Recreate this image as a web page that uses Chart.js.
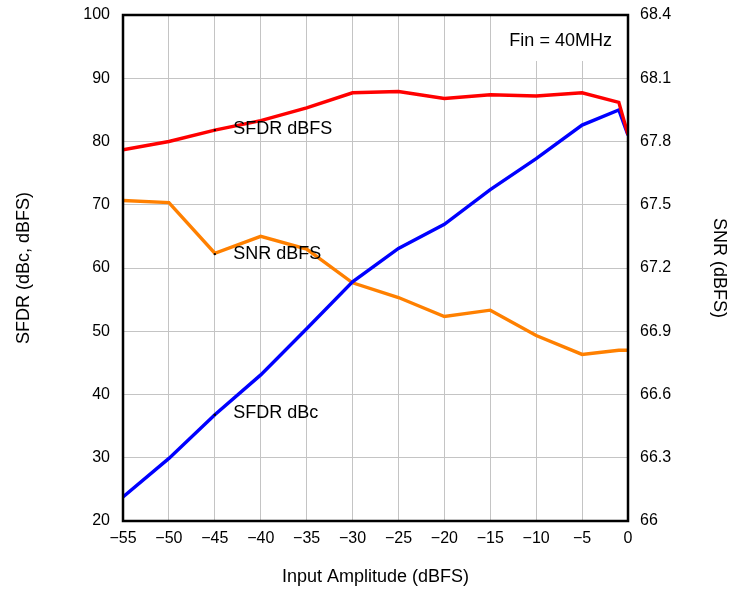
<!DOCTYPE html>
<html>
<head>
<meta charset="utf-8">
<script src="https://cdn.jsdelivr.net/npm/chart.js@4"></script>
<style>
  html, body { margin: 0; padding: 0; background: #fff; }
  #wrap { width: 730px; height: 590px; }
</style>
</head>
<body>
<div id="wrap"><canvas id="chart" width="730" height="590"></canvas></div>
<script>
// Input amplitude (dBFS) sample points
const inputAmplitude = [-55, -50, -45, -40, -35, -30, -25, -20, -15, -10, -5, -1, 0];
// Left axis series (dBc / dBFS)
const sfdrDbfs = [78.7, 80.0, 81.8, 83.3, 85.3, 87.7, 87.9, 86.8, 87.4, 87.2, 87.7, 86.2, 81.1];
const sfdrDbc = [23.8, 29.9, 36.8, 43.1, 50.4, 57.8, 63.1, 66.9, 72.4, 77.3, 82.6, 85.0, 81.0];
// Right axis series (dBFS)
const snrDbfs = [67.52, 67.51, 67.27, 67.35, 67.29, 67.13, 67.06, 66.97, 67.0, 66.88, 66.79, 66.81, 66.81];

const xTicks = [-55, -50, -45, -40, -35, -30, -25, -20, -15, -10, -5, 0];
const leftTicks = [20, 30, 40, 50, 60, 70, 80, 90, 100];
const rightTicks = [66, 66.3, 66.6, 66.9, 67.2, 67.5, 67.8, 68.1, 68.4];

// Curve labels placed in data coordinates (x, left-axis y), with a small anchor dot
const curveLabels = [
  { text: 'SFDR dBFS', x: -43.0, y: 81.9, dotX: -45, dotY: 81.8 },
  { text: 'SNR dBFS', x: -43.0, y: 62.2, dotX: -45, dotY: 62.2 },
  { text: 'SFDR dBc', x: -43.0, y: 37.0, dotX: -45, dotY: 36.8 }
];
const noteText = 'Fin = 40MHz';

const FONT = 'Liberation Sans, Arial, Helvetica, sans-serif';

function pts(ys) {
  return inputAmplitude.map((x, i) => ({ x: x, y: ys[i] }));
}

const decor = {
  id: 'decor',
  beforeDatasetsDraw(chart) {
    const { ctx, chartArea, scales } = chart;
    // white note box covering the grid at the top right
    const bx = scales.x.getPixelForValue(-15) + 1;
    ctx.save();
    ctx.fillStyle = '#fff';
    ctx.fillRect(bx, chartArea.top, chartArea.right - bx, 46);
    ctx.fillStyle = '#000';
    ctx.font = '18px ' + FONT;
    ctx.textAlign = 'center';
    ctx.textBaseline = 'middle';
    ctx.fillText(noteText, (bx + chartArea.right) / 2 + 1, chartArea.top + 26);
    ctx.restore();
  },
  afterDatasetsDraw(chart) {
    const { ctx, chartArea, scales } = chart;
    ctx.save();
    ctx.fillStyle = '#000';
    ctx.font = '18px ' + FONT;
    ctx.textAlign = 'left';
    ctx.textBaseline = 'middle';
    curveLabels.forEach(l => {
      ctx.fillText(l.text, scales.x.getPixelForValue(l.x), scales.y.getPixelForValue(l.y));
      ctx.beginPath();
      ctx.arc(scales.x.getPixelForValue(l.dotX), scales.y.getPixelForValue(l.dotY), 1.2, 0, Math.PI * 2);
      ctx.fill();
    });
    ctx.strokeStyle = '#000';
    ctx.lineWidth = 2.5;
    ctx.strokeRect(chartArea.left, chartArea.top, chartArea.right - chartArea.left, chartArea.bottom - chartArea.top);
    ctx.restore();
  }
};

const ctx = document.getElementById('chart').getContext('2d');
new Chart(ctx, {
  type: 'line',
  data: {
    datasets: [
      { label: 'SFDR dBFS', data: pts(sfdrDbfs), yAxisID: 'y', borderColor: '#ff0000', borderWidth: 3.4, pointRadius: 0, tension: 0, fill: false },
      { label: 'SFDR dBc', data: pts(sfdrDbc), yAxisID: 'y', borderColor: '#0000ff', borderWidth: 3.4, pointRadius: 0, tension: 0, fill: false },
      { label: 'SNR dBFS', data: pts(snrDbfs), yAxisID: 'y1', borderColor: '#ff8000', borderWidth: 3.4, pointRadius: 0, tension: 0, fill: false }
    ]
  },
  options: {
    responsive: false,
    animation: false,
    events: [],
    layout: { padding: { top: 15, left: 0, right: 0, bottom: 0 } },
    plugins: {
      legend: { display: false },
      tooltip: { enabled: false }
    },
    scales: {
      x: {
        type: 'linear',
        min: -55,
        max: 0,
        afterBuildTicks: s => { s.ticks = xTicks.map(v => ({ value: v })); },
        afterFit: s => { s.height = 69; s.paddingLeft = 0; s.paddingRight = 0; },
        grid: { color: '#c4c4c4', lineWidth: 1, drawTicks: false },
        border: { display: false },
        ticks: {
          color: '#000',
          font: { family: FONT, size: 16 },
          padding: 8,
          maxRotation: 0,
          callback: v => (v < 0 ? '\u2212' + Math.abs(v) : String(v))
        },
        title: {
          display: true,
          text: 'Input Amplitude (dBFS)',
          color: '#000',
          font: { family: FONT, size: 18 },
          padding: { top: 0, bottom: 2 }
        }
      },
      y: {
        position: 'left',
        min: 20,
        max: 100,
        afterBuildTicks: s => { s.ticks = leftTicks.map(v => ({ value: v })); },
        afterFit: s => { s.width = 123; s.paddingTop = 0; s.paddingBottom = 0; },
        grid: { color: '#c4c4c4', lineWidth: 1, drawTicks: false },
        border: { display: false },
        ticks: {
          color: '#000',
          font: { family: FONT, size: 16 },
          padding: 13
        },
        title: {
          display: true,
          text: 'SFDR (dBc, dBFS)',
          color: '#000',
          font: { family: FONT, size: 18 },
          padding: { top: 13, bottom: 0 }
        }
      },
      y1: {
        position: 'right',
        min: 66,
        max: 68.4,
        afterBuildTicks: s => { s.ticks = rightTicks.map(v => ({ value: v })); },
        afterFit: s => { s.width = 102; s.paddingTop = 0; s.paddingBottom = 0; },
        grid: { display: false, drawTicks: false },
        border: { display: false },
        ticks: {
          color: '#000',
          font: { family: FONT, size: 16 },
          padding: 12,
          callback: v => (v === 66 ? '66' : v.toFixed(1))
        },
        title: {
          display: true,
          text: 'SNR (dBFS)',
          color: '#000',
          font: { family: FONT, size: 18 },
          padding: { top: 0, bottom: 0 }
        }
      }
    }
  },
  plugins: [decor]
});
</script>
</body>
</html>
